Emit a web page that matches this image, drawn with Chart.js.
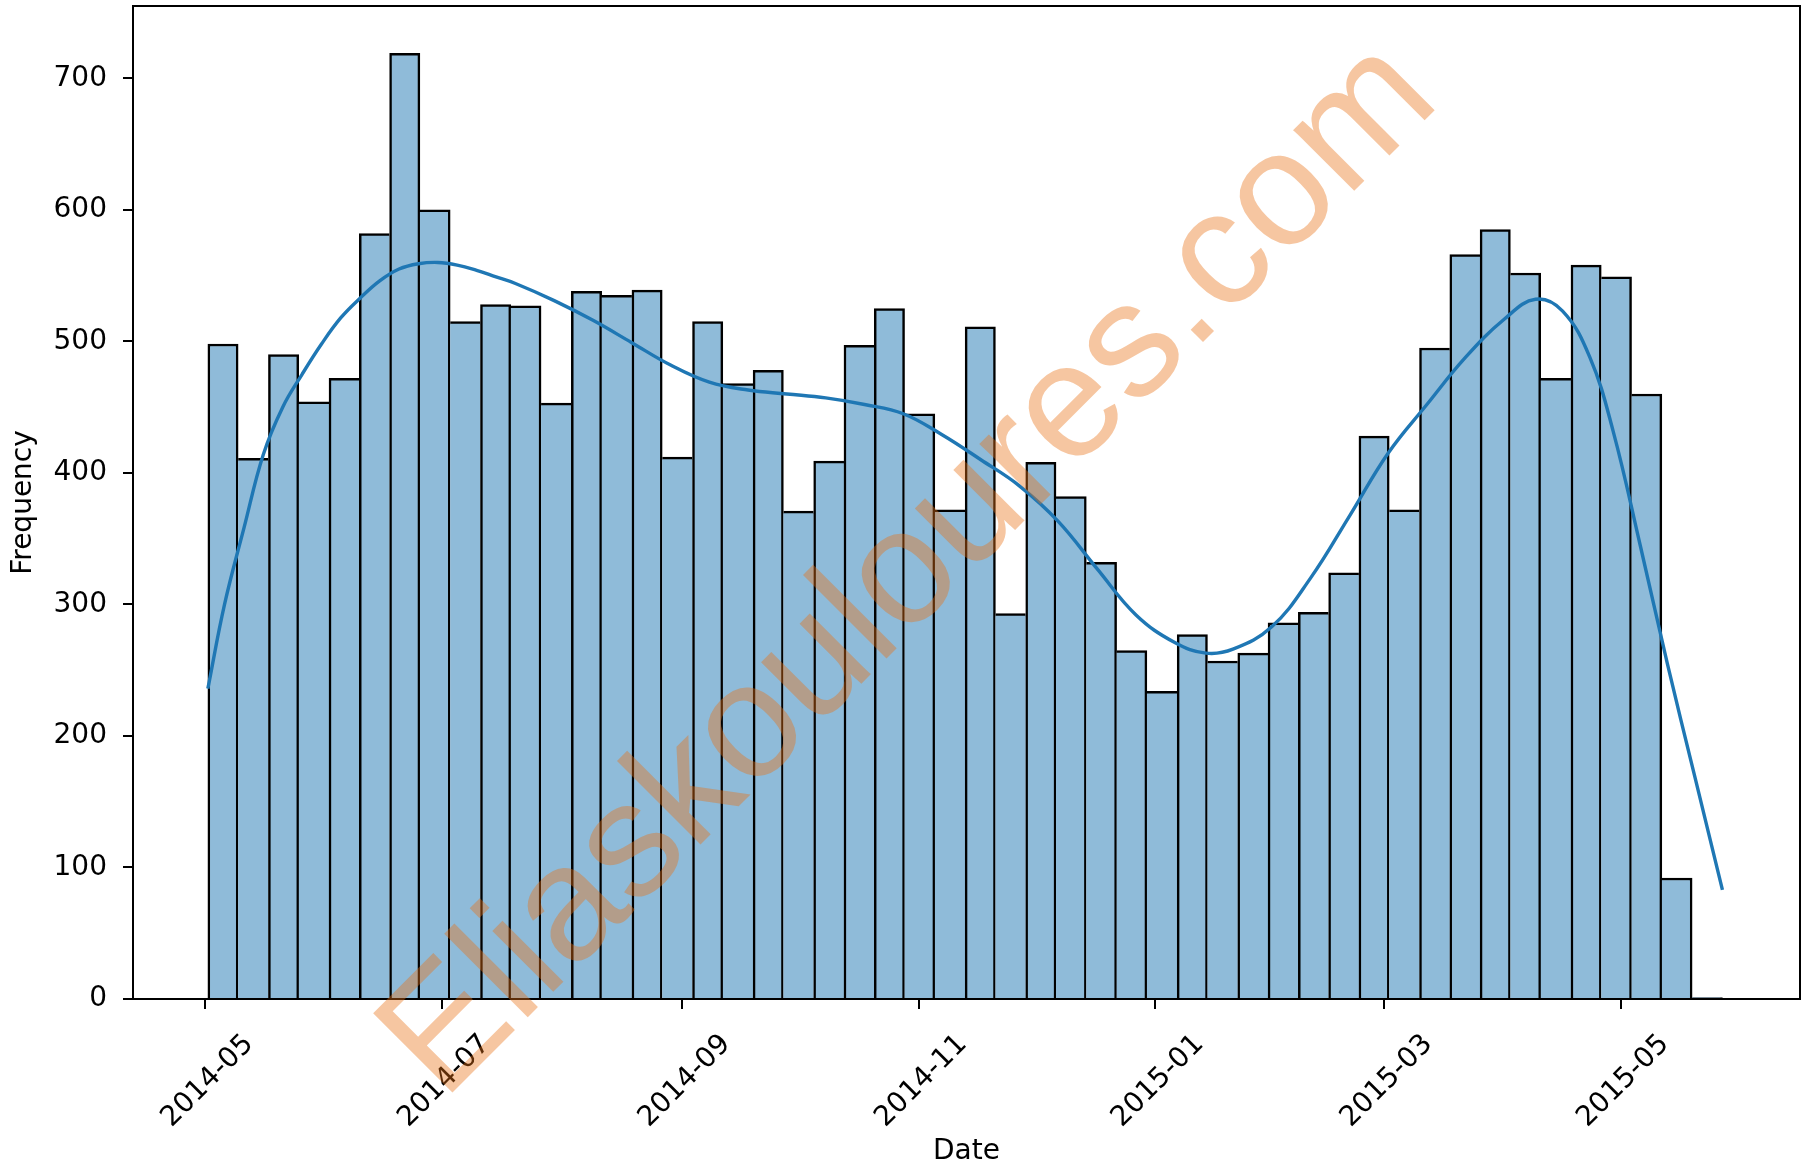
<!DOCTYPE html>
<html>
<head>
<meta charset="utf-8">
<script src="https://cdn.jsdelivr.net/npm/chart.js@4.4.1/dist/chart.umd.min.js"></script>
<style>
  html, body { margin: 0; padding: 0; background: #fff; }
</style>
</head>
<body>
<canvas id="Chart" width="1803" height="1169"></canvas>
<script>
// x values are days counted from 2014-05-01
var binStartDay = 0.7;
var binWidthDays = 7.81;
var counts = [498,411,490,454,472,582,719,600,515,528,
              527,453,538,535,539,412,515,468,478,371,
              409,497,525,445,372,511,293,408,382,332,
              265,234,277,257,263,286,294,324,428,372,
              495,566,585,552,472,558,549,460,92,1];

// kde curve
var kdeDays   = [0.7,5,10,15,20,25,30,35,40,45,50,55,60,65,70,75,80,90,100,110,
                 120,130,140,150,160,170,180,190,200,210,220,230,240,250,258,265,275,285,295,305,
                 315,325,335,343,350,357,363,370,377,384,391.2];
var kdeValues = [236,300,358,414,450,475,498,518,533,546,555,559,560,558,554,549,544,531,516,499,
                 482,469,463,460,457,452,445,429,410,390,363,327,292,271,263,266,283,320,367,415,
                 452,488,517,532,523,488,432,345,255,170,83];

var tickDays   = [0,61,123,184,245,304,365];
var tickLabels = ['2014-05','2014-07','2014-09','2014-11','2015-01','2015-03','2015-05'];

var bars = counts.map(function (c, i) {
  return { x: binStartDay + (i + 0.5) * binWidthDays, y: c };
});
var kde = kdeDays.map(function (d, i) { return { x: d, y: kdeValues[i] }; });

var edge = 2.5;
function barBorder(ctx) {
  var i = ctx.dataIndex;
  var v = counts[i];
  var prev = i > 0 ? counts[i - 1] : -1;
  var next = i < counts.length - 1 ? counts[i + 1] : -1;
  return { top: edge, bottom: 0, left: v > prev ? edge : 0, right: v >= next ? edge : 0 };
}

// box around the plot
var spines = {
  id: 'spines',
  afterDatasetsDraw: function (chart) {
    var a = chart.chartArea, c = chart.ctx;
    c.save();
    c.strokeStyle = '#000';
    c.lineWidth = 2;
    c.strokeRect(a.left, a.top, a.right - a.left, a.bottom - a.top);
    c.restore();
  }
};

var watermark = {
  id: 'watermark',
  afterDraw: function (chart) {
    var c = chart.ctx;
    c.save();
    c.translate(443, 1102);
    c.rotate(-Math.PI / 4);
    c.font = '163px "Liberation Sans"';
    c.fillStyle = 'rgba(232,112,20,0.4)';
    c.textAlign = 'left';
    c.textBaseline = 'alphabetic';
    c.fillText('Eliaskouloures.com', 0, 0);
    c.restore();
  }
};

Chart.defaults.font.family = 'DejaVu Sans';
Chart.defaults.color = '#000';

var ctx = document.getElementById('Chart');
var myChart = new Chart(ctx, {
  type: 'bar',
  data: {
    datasets: [
      {
        type: 'line',
        data: kde,
        borderColor: '#1f77b4',
        borderWidth: 3.4,
        pointRadius: 0,
        tension: 0.4,
        fill: false,
        order: 0
      },
      {
        data: bars,
        backgroundColor: '#8fbbd9',
        borderColor: '#000',
        borderWidth: barBorder,
        barPercentage: 1,
        categoryPercentage: 1,
        order: 1
      }
    ]
  },
  options: {
    responsive: false,
    animation: false,
    devicePixelRatio: 1,
    layout: { padding: { left: 0, right: 3, top: 6, bottom: 0 } },
    plugins: { legend: { display: false }, tooltip: { enabled: false } },
    scales: {
      x: {
        type: 'linear',
        min: -18.6,
        max: 411.2,
        offset: false,
        grid: { offset: false, drawOnChartArea: false, tickLength: 10, lineWidth: 2, color: '#000' },
        border: { display: false },
        afterBuildTicks: function (scale) {
          scale.ticks = tickDays.map(function (d) { return { value: d }; });
        },
        afterFit: function (scale) {
          scale.height = 170;
          scale.paddingLeft = 0;
          scale.paddingRight = 0;
        },
        ticks: {
          autoSkip: false,
          minRotation: 45,
          maxRotation: 45,
          padding: 19,
          labelOffset: 44,
          font: { size: 28 },
          callback: function (value) {
            var k = tickDays.indexOf(value);
            return k >= 0 ? tickLabels[k] : '';
          }
        },
        title: { display: true, text: 'Date', font: { size: 28 }, padding: { top: 0, bottom: 0 } }
      },
      y: {
        min: 0,
        max: 755,
        grid: { drawOnChartArea: false, tickLength: 10, lineWidth: 2, color: '#000' },
        border: { display: false },
        afterFit: function (scale) {
          scale.width = 133;
          scale.paddingTop = 0;
          scale.paddingBottom = 0;
        },
        ticks: { stepSize: 100, includeBounds: false, padding: 16, font: { size: 28 } },
        title: { display: true, text: 'Frequency', font: { size: 28 }, padding: { top: 7, bottom: 0 } }
      }
    }
  },
  plugins: [spines, watermark]
});
</script>
</body>
</html>
